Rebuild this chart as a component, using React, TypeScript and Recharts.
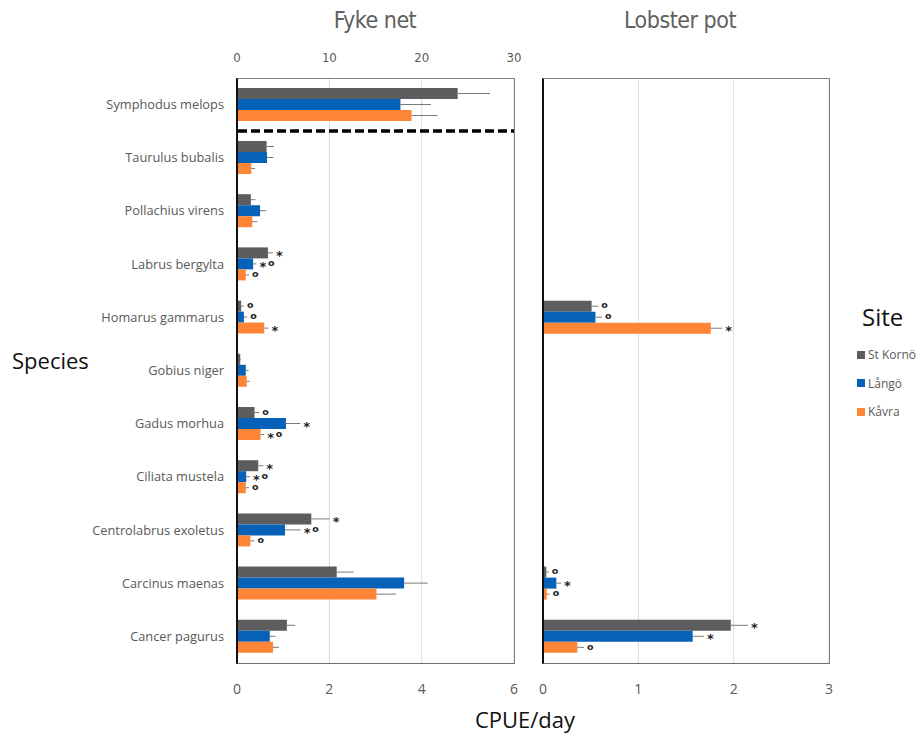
import React from "react";
import {
  BarChart,
  Bar,
  XAxis,
  YAxis,
  CartesianGrid,
  ErrorBar,
  LabelList,
} from "recharts";

// Species, top row first
const SPECIES = [
  "Symphodus melops",
  "Taurulus bubalis",
  "Pollachius virens",
  "Labrus bergylta",
  "Homarus gammarus",
  "Gobius niger",
  "Gadus morhua",
  "Ciliata mustela",
  "Centrolabrus exoletus",
  "Carcinus maenas",
  "Cancer pagurus",
];

const SITES = ["St Kornö", "Långö", "Kåvra"];
const COLORS = ["#5d5d60", "#0562b8", "#fe8536"];

// Fyke net CPUE/day (Symphodus melops is read on the 0–30 top axis)
const FYKE_KORNO = [23.9, 0.64, 0.3, 0.67, 0.09, 0.07, 0.38, 0.46, 1.61, 2.16, 1.08];
const FYKE_KORNO_SE = [3.5, 0.16, 0.1, 0.11, 0.06, 0.02, 0.1, 0.11, 0.4, 0.37, 0.18];
const FYKE_LANGO = [17.7, 0.65, 0.5, 0.35, 0.15, 0.19, 1.06, 0.2, 1.04, 3.62, 0.71];
const FYKE_LANGO_SE = [3.3, 0.14, 0.13, 0.07, 0.07, 0.06, 0.31, 0.08, 0.34, 0.51, 0.12];
const FYKE_KAVRA = [18.9, 0.31, 0.33, 0.19, 0.59, 0.21, 0.51, 0.19, 0.29, 3.02, 0.78];
const FYKE_KAVRA_SE = [2.8, 0.08, 0.11, 0.07, 0.09, 0.07, 0.08, 0.07, 0.09, 0.43, 0.13];

// Significance marks: * and o
const FYKE_KORNO_SIG = ["", "", "", "*", "o", "", "o", "*", "*", "", ""];
const FYKE_LANGO_SIG = ["", "", "", "*o", "o", "", "*", "*o", "*o", "", ""];
const FYKE_KAVRA_SIG = ["", "", "", "o", "*", "", "*o", "o", "o", "", ""];

// Lobster pot CPUE/day (0 = not caught)
const POT_KORNO = [0, 0, 0, 0, 0.51, 0, 0, 0, 0, 0.035, 1.97];
const POT_KORNO_SE = [0, 0, 0, 0, 0.07, 0, 0, 0, 0, 0.025, 0.18];
const POT_LANGO = [0, 0, 0, 0, 0.55, 0, 0, 0, 0, 0.14, 1.57];
const POT_LANGO_SE = [0, 0, 0, 0, 0.07, 0, 0, 0, 0, 0.05, 0.12];
const POT_KAVRA = [0, 0, 0, 0, 1.76, 0, 0, 0, 0, 0.04, 0.36];
const POT_KAVRA_SE = [0, 0, 0, 0, 0.12, 0, 0, 0, 0, 0.03, 0.07];
const POT_KORNO_SIG = ["", "", "", "", "o", "", "", "", "", "o", "*"];
const POT_LANGO_SIG = ["", "", "", "", "o", "", "", "", "", "*", "*"];
const POT_KAVRA_SIG = ["", "", "", "", "*", "", "", "", "", "o", "o"];

const FYKE_TOP_TICKS = [0, 10, 20, 30];
const FYKE_TICKS = [0, 2, 4, 6];
const POT_TICKS = [0, 1, 2, 3];

type Row = Record<string, any>;

const errPair = (v: number, se: number) => (v > 0 ? [0, se] : null);

const buildRows = (
  vals: number[][],
  ses: number[][],
  sigs: string[][]
): Row[] =>
  SPECIES.map((s, i) => ({
    species: s,
    k: vals[0][i],
    kErr: errPair(vals[0][i], ses[0][i]),
    kSig: sigs[0][i],
    l: vals[1][i],
    lErr: errPair(vals[1][i], ses[1][i]),
    lSig: sigs[1][i],
    v: vals[2][i],
    vErr: errPair(vals[2][i], ses[2][i]),
    vSig: sigs[2][i],
  }));

const fykeRows = buildRows(
  [FYKE_KORNO, FYKE_LANGO, FYKE_KAVRA],
  [FYKE_KORNO_SE, FYKE_LANGO_SE, FYKE_KAVRA_SE],
  [FYKE_KORNO_SIG, FYKE_LANGO_SIG, FYKE_KAVRA_SIG]
);
const fykeTop = fykeRows.slice(0, 1);
const fykeRest = fykeRows.slice(1);

const potRows = buildRows(
  [POT_KORNO, POT_LANGO, POT_KAVRA],
  [POT_KORNO_SE, POT_LANGO_SE, POT_KAVRA_SE],
  [POT_KORNO_SIG, POT_LANGO_SIG, POT_KAVRA_SIG]
);

const TEXT_GREY = "#595959";
const SANS = "'Open Sans', 'Noto Sans', sans-serif";
const NARROW = "'Liberation Sans Narrow', 'DejaVu Sans Condensed', 'Open Sans', sans-serif";

// Label value carrying the mark, the bar value and its error
const markValue = (key: string) => (row: Row) =>
  row[key + "Sig"]
    ? { sig: row[key + "Sig"], val: row[key], err: row[key + "Err"] ? row[key + "Err"][1] : 0 }
    : null;

// Marks drawn just past the end of each error bar
const renderMark = (props: any) => {
  const vb = props.viewBox || {};
  const x = typeof props.x === "number" ? props.x : vb.x;
  const y = typeof props.y === "number" ? props.y : vb.y;
  const width = typeof props.width === "number" ? props.width : vb.width;
  const height = typeof props.height === "number" ? props.height : vb.height;
  const m = props.value;
  if (!m || typeof m !== "object" || !m.sig || !m.val || !width) return null;
  const pxPerUnit = width / m.val;
  let cx = x + width + m.err * pxPerUnit + 3;
  const cy = y + height / 2;
  const parts: React.ReactNode[] = [];
  (m.sig as string).split("").forEach((ch, j) => {
    if (ch === "*") {
      parts.push(
        <text
          key={j}
          x={cx}
          y={cy + 7}
          fontSize={13}
          fontWeight="bold"
          fontFamily="'DejaVu Sans', sans-serif"
          fill="#222"
        >
          *
        </text>
      );
      cx += 8.5;
    } else {
      parts.push(
        <text
          key={j}
          x={cx}
          y={cy + 2.2}
          fontSize={9.5}
          fontWeight="bold"
          fontFamily="'DejaVu Sans', sans-serif"
          fill="#222"
        >
          o
        </text>
      );
      cx += 7;
    }
  });
  return <g>{parts}</g>;
};

const renderSeries = () =>
  [
    { key: "k", name: SITES[0], color: COLORS[0] },
    { key: "l", name: SITES[1], color: COLORS[1] },
    { key: "v", name: SITES[2], color: COLORS[2] },
  ].map((s) => (
    <Bar
      key={s.key}
      dataKey={s.key}
      name={s.name}
      fill={s.color}
      barSize={11}
      isAnimationActive={false}
    >
      <ErrorBar
        dataKey={s.key + "Err"}
        direction="x"
        width={0}
        stroke="#7a7a7a"
        strokeWidth={1}
        isAnimationActive={false}
      />
      <LabelList dataKey={markValue(s.key)} content={renderMark} />
    </Bar>
  ));

const tickStyle = { fill: TEXT_GREY, fontSize: 14, fontFamily: SANS };

const Frame = ({ left, top, width, height }: any) => (
  <div
    style={{
      position: "absolute",
      left,
      top,
      width,
      height,
      boxSizing: "border-box",
      borderTop: "1.5px solid #808080",
      borderRight: "1.5px solid #808080",
      borderBottom: "1.5px solid #707070",
      borderLeft: "2px solid #111",
      pointerEvents: "none",
    }}
  />
);

const titleStyle: React.CSSProperties = {
  position: "absolute",
  width: 200,
  top: 7,
  textAlign: "center",
  fontFamily: NARROW,
  fontSize: 23,
  color: "#606060",
  letterSpacing: -0.5,
};

export default function App() {
  return (
    <div
      style={{
        position: "absolute",
        left: 0,
        top: 0,
        width: 922,
        height: 735,
        background: "#fff",
        overflow: "hidden",
        fontFamily: SANS,
      }}
    >
      {/* Panel titles */}
      <div style={{ ...titleStyle, left: 275 }}>Fyke net</div>
      <div style={{ ...titleStyle, left: 580 }}>Lobster pot</div>

      {/* Fyke net: Symphodus melops row on the 0–30 scale */}
      <div style={{ position: "absolute", left: 0, top: 0 }}>
        <BarChart
          width={522}
          height={131}
          data={fykeTop}
          layout="vertical"
          barGap={0}
          margin={{ top: 0, right: 8, bottom: 0, left: 0 }}
        >
          <CartesianGrid horizontal={false} stroke="#d9d9d9" />
          <XAxis
            type="number"
            orientation="top"
            domain={[0, 30]}
            ticks={FYKE_TOP_TICKS}
            height={78}
            axisLine={false}
            tickLine={false}
            tickSize={0}
            tickMargin={16}
            tick={{ fill: TEXT_GREY, fontSize: 13, fontFamily: NARROW }}
          />
          <YAxis
            type="category"
            dataKey="species"
            width={237}
            axisLine={false}
            tickLine={false}
            tickSize={0}
            tickMargin={13}
            tick={{ fill: TEXT_GREY, fontSize: 12.8, fontFamily: SANS }}
          />
          {renderSeries()}
        </BarChart>
      </div>

      {/* Fyke net: remaining species on the 0–6 scale */}
      <div style={{ position: "absolute", left: 0, top: 131 }}>
        <BarChart
          width={522}
          height={582}
          data={fykeRest}
          layout="vertical"
          barGap={0}
          margin={{ top: 0, right: 8, bottom: 0, left: 0 }}
        >
          <CartesianGrid horizontal={false} stroke="#d9d9d9" />
          <XAxis
            type="number"
            domain={[0, 6]}
            ticks={FYKE_TICKS}
            height={50}
            axisLine={false}
            tickLine={false}
            tickSize={0}
            tickMargin={21}
            tick={tickStyle}
          />
          <YAxis
            type="category"
            dataKey="species"
            width={237}
            axisLine={false}
            tickLine={false}
            tickSize={0}
            tickMargin={13}
            tick={{ fill: TEXT_GREY, fontSize: 12.8, fontFamily: SANS }}
          />
          {renderSeries()}
        </BarChart>
      </div>

      {/* Lobster pot */}
      <div style={{ position: "absolute", left: 535, top: 0 }}>
        <BarChart
          width={314}
          height={713}
          data={potRows}
          layout="vertical"
          barGap={0}
          margin={{ top: 78, right: 20, bottom: 0, left: 8 }}
        >
          <CartesianGrid horizontal={false} stroke="#d9d9d9" />
          <XAxis
            type="number"
            domain={[0, 3]}
            ticks={POT_TICKS}
            height={50}
            axisLine={false}
            tickLine={false}
            tickSize={0}
            tickMargin={21}
            tick={tickStyle}
          />
          <YAxis type="category" dataKey="species" hide width={0} />
          {renderSeries()}
        </BarChart>
      </div>

      {/* Panel frames */}
      <Frame left={236} top={78} width={279} height={586} />
      <Frame left={542} top={78} width={288} height={586} />

      {/* Divider between the two fyke net scales */}
      <svg
        width={922}
        height={735}
        style={{ position: "absolute", left: 0, top: 0, pointerEvents: "none" }}
      >
        <line
          x1={238}
          x2={514}
          y1={131}
          y2={131}
          stroke="#000"
          strokeWidth={3.5}
          strokeDasharray="9 4"
        />
      </svg>

      {/* Axis titles */}
      <div
        style={{
          position: "absolute",
          left: 12,
          top: 345,
          fontSize: 22,
          color: "#111",
        }}
      >
        Species
      </div>
      <div
        style={{
          position: "absolute",
          left: 425,
          width: 200,
          top: 704,
          textAlign: "center",
          fontSize: 22,
          color: "#111",
        }}
      >
        CPUE/day
      </div>

      {/* Legend */}
      <div
        style={{
          position: "absolute",
          left: 862,
          top: 300,
          fontSize: 24,
          color: "#111",
        }}
      >
        Site
      </div>
      {SITES.map((s, i) => (
        <div
          key={s}
          style={{
            position: "absolute",
            left: 857,
            top: 346 + i * 28.5,
            display: "flex",
            alignItems: "center",
            fontSize: 12,
            color: TEXT_GREY,
            whiteSpace: "nowrap",
          }}
        >
          <span
            style={{
              display: "inline-block",
              width: 8,
              height: 8,
              background: COLORS[i],
              marginRight: 3,
            }}
          />
          {s}
        </div>
      ))}
    </div>
  );
}
